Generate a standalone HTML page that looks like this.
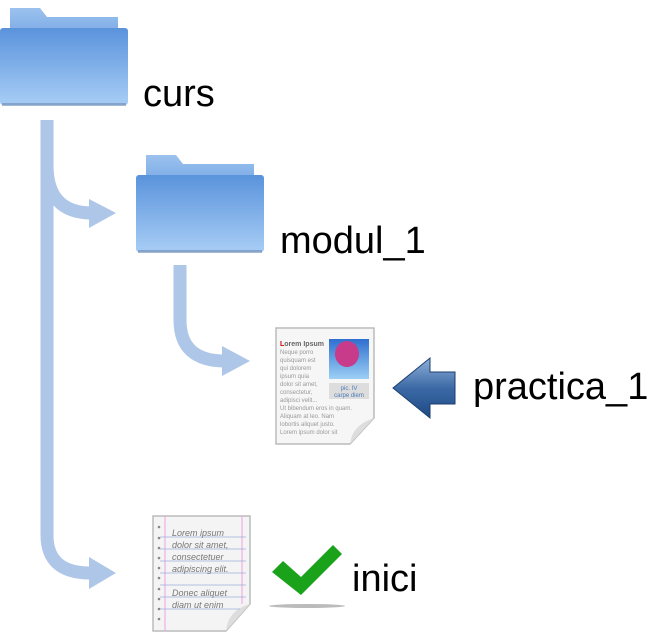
<!DOCTYPE html>
<html><head><meta charset="utf-8"><style>
body{margin:0;background:#fff;width:650px;height:638px;overflow:hidden}
text{font-family:"Liberation Sans",sans-serif}
</style></head><body>
<svg width="650" height="638" viewBox="0 0 650 638" xmlns="http://www.w3.org/2000/svg">
<defs>
<linearGradient id="fb" x1="0" y1="0" x2="0" y2="1"><stop offset="0" stop-color="#5a93dc"/><stop offset="1" stop-color="#a7cdf5"/></linearGradient>
<linearGradient id="ft" x1="0" y1="0" x2="0" y2="1"><stop offset="0" stop-color="#9cc2ee"/><stop offset="1" stop-color="#7aaae6"/></linearGradient>
<linearGradient id="ba" x1="0" y1="0" x2="0" y2="1"><stop offset="0" stop-color="#8fb0d8"/><stop offset="0.5" stop-color="#3c6aa6"/><stop offset="1" stop-color="#1e4a85"/></linearGradient>
<linearGradient id="sky" x1="0" y1="0" x2="0" y2="1"><stop offset="0" stop-color="#2f6fd0"/><stop offset="1" stop-color="#9cd0f5"/></linearGradient>
</defs>
<g fill="none" stroke="#aec6e8" stroke-width="13">
<path d="M47 120 V535 Q47 573 90 573"/>
<path d="M47 165 Q47 213 92 213"/>
<path d="M180 265 V320 Q180 361 225 361"/>
</g>
<g fill="#aec6e8">
<polygon points="89,557 116,573 89,589"/>
<polygon points="89,199 116,213 89,228"/>
<polygon points="222,346 250,361 222,376"/>
</g>
<g>
<path d="M10 8 H40 L47 17 H118 V35 H10 Z" fill="url(#ft)"/>
<rect x="0" y="28" width="128" height="77" rx="3" fill="url(#fb)"/>
<rect x="2" y="103" width="124" height="3" fill="#6b89b0" opacity="0.6"/>
</g>
<g transform="translate(136,147)">
<path d="M10 8 H40 L47 17 H118 V35 H10 Z" fill="url(#ft)"/>
<rect x="0" y="28" width="128" height="77" rx="3" fill="url(#fb)"/>
<rect x="2" y="103" width="124" height="3" fill="#6b89b0" opacity="0.6"/>
</g>
<text x="143" y="106" font-size="38">curs</text>
<text x="280" y="253" font-size="38">modul_1</text>
<text x="473" y="399" font-size="38">practica_1</text>
<text x="352" y="591" font-size="38">inici</text>
<g>
<path d="M276 328 H374 V418 L350 444 H276 Z" fill="#f6f6f6" stroke="#bbb" stroke-width="1.5"/>
<path d="M374 418 L350 444 Q352 425 374 418 Z" fill="#ddd"/>
<rect x="329" y="339" width="40" height="40" fill="url(#sky)"/>
<ellipse cx="347" cy="354" rx="12" ry="13" fill="#c83a8a"/>
<rect x="329" y="383" width="40" height="16" fill="#ddd"/>
<text x="349" y="390" font-size="6" fill="#4a7ab8" text-anchor="middle">pic. IV</text>
<text x="349" y="397" font-size="6" fill="#4a7ab8" text-anchor="middle">carpe diem</text>
<text x="280" y="346" font-size="7" font-weight="bold" fill="#666"><tspan fill="#c00">L</tspan>orem Ipsum</text>
<g font-size="6" fill="#999">
<text x="280" y="354">Neque porro</text><text x="280" y="362">quisquam est</text><text x="280" y="370">qui dolorem</text><text x="280" y="378">ipsum quia</text><text x="280" y="386">dolor sit amet,</text><text x="280" y="394">consectetur,</text><text x="280" y="402">adipisci velit...</text>
<text x="280" y="410">Ut bibendum eros in quam.</text><text x="280" y="418">Aliquam at leo. Nam</text><text x="280" y="426">lobortis aliquet justo.</text><text x="280" y="434">Lorem ipsum dolor sit</text>
</g>
</g>
<path d="M393 388 L430 358 V372 H455 V404 H430 V418 Z" fill="url(#ba)" stroke="#1d3e6e" stroke-width="1"/>
<g>
<path d="M153 516 H250 V604 L226 631 H153 Z" fill="#f4f4f4" stroke="#bbb" stroke-width="1.5"/>
<path d="M250 604 L226 631 Q228 610 250 604 Z" fill="#ddd"/>
<line x1="165" y1="516" x2="165" y2="631" stroke="#f0a0e0"/>
<line x1="242" y1="516" x2="242" y2="604" stroke="#f0a0e0"/>
<g stroke="#9aaee0" stroke-width="0.8">
<line x1="160" y1="537" x2="246" y2="537"/><line x1="160" y1="549" x2="246" y2="549"/><line x1="160" y1="561" x2="246" y2="561"/><line x1="160" y1="573" x2="246" y2="573"/><line x1="160" y1="585" x2="246" y2="585"/><line x1="160" y1="597" x2="246" y2="597"/><line x1="160" y1="609" x2="240" y2="609"/>
</g>
<g font-size="9" font-style="italic" fill="#777" font-family="Liberation Serif,serif">
<text x="172" y="536">Lorem ipsum</text><text x="172" y="548">dolor sit amet,</text><text x="172" y="560">consectetuer</text><text x="172" y="572">adipiscing elit.</text><text x="172" y="596">Donec aliquet</text><text x="172" y="608">diam ut enim</text>
</g>
<g fill="#888"><circle cx="159" cy="527" r="1.3"/><circle cx="159" cy="538" r="1.3"/><circle cx="159" cy="548" r="1.3"/><circle cx="159" cy="558" r="1.3"/><circle cx="159" cy="568" r="1.3"/><circle cx="159" cy="578" r="1.3"/><circle cx="159" cy="589" r="1.3"/><circle cx="159" cy="599" r="1.3"/><circle cx="159" cy="609" r="1.3"/><circle cx="159" cy="619" r="1.3"/></g>
</g>
<ellipse cx="307" cy="606" rx="38" ry="2" fill="#bbb"/>
<path d="M272 572 L283 561 L301 577 L333 545 L342 554 L301 595 Z" fill="#1aa31a"/>
</svg>
</body></html>
